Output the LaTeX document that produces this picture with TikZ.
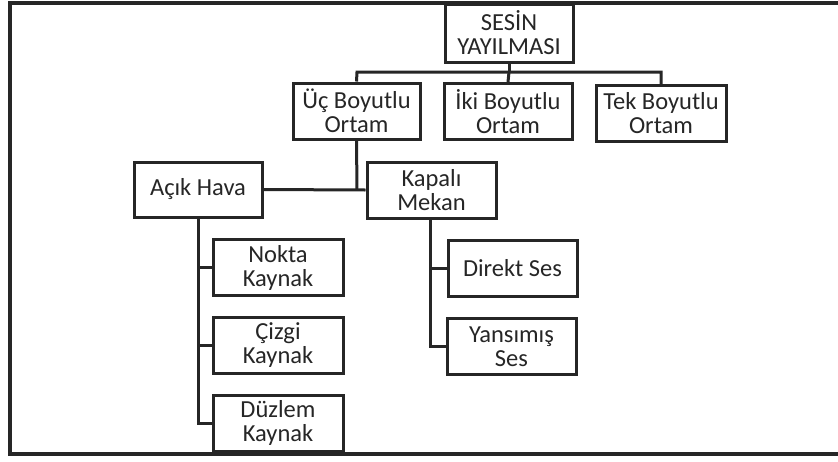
\documentclass[tikz,border=0pt]{standalone}
\usepackage{fontspec}
\setmainfont{Carlito}
\definecolor{ink}{HTML}{262626}
\begin{document}
\begin{tikzpicture}[x=1pt,y=-1pt,
  box/.style={draw=ink,line width=3pt,rectangle,align=center,text=ink,
    font=\fontsize{24.5}{24}\selectfont,inner sep=0pt,minimum width=128pt,minimum height=56pt},
  link/.style={draw=ink,line width=3pt}]
\useasboundingbox (0,0) rectangle (838,461);
\fill[white] (0,0) rectangle (838,461);
% frame
\draw[ink,line width=4pt] (838,3) -- (10,3) -- (10,454) -- (838,454);
% nodes
\node[box,minimum height=58pt] (ses) at (509,33) {SESİN\\YAYILMASI};
\node[box,minimum width=127pt] (uc) at (356.5,111) {Üç Boyutlu\\Ortam};
\node[box] (iki) at (508,111.5) {İki Boyutlu\\Ortam};
\node[box,minimum width=130pt] (tek) at (661,113.5) {Tek Boyutlu\\Ortam};
\node[box,minimum height=55pt] (acik) at (198,189.5) {Açık Hava};
\node[box,minimum width=129pt] (kapali) at (431.5,190) {Kapalı\\Mekan};
\node[box,minimum width=130pt] (nokta) at (278,267.5) {Nokta\\Kaynak};
\node[box,minimum width=130pt] (cizgi) at (278,345.5) {Çizgi\\Kaynak};
\node[box,minimum width=130pt] (duzlem) at (278,423) {Düzlem\\Kaynak};
\node[box,minimum width=129pt] (direkt) at (512.5,268) {Direkt Ses};
\node[box,minimum width=129pt] (yansi) at (511.5,346.5) {Yansımış\\Ses};
% junctions
\coordinate (busL) at (357,72);
\coordinate (busM) at (509,72);
\coordinate (busR) at (661,72);
\coordinate (midJ) at (357,190);
% connectors
\draw[link] (ses.south) -- (busM);
\draw[link] (uc.north) -- (busL) -- (busR) -- (tek.north);
\draw[link] (busM) -- (iki.north);
\draw[link] (uc.south) -- (midJ);
\draw[link] (acik.east) -- (kapali.west);
\draw[link] (acik.south) |- (duzlem.west);
\draw[link] (acik.south |- nokta.west) -- (nokta.west);
\draw[link] (acik.south |- cizgi.west) -- (cizgi.west);
\draw[link] ([xshift=-1.5pt]kapali.south) |- (yansi.west);
\draw[link] ([xshift=-1.5pt]kapali.south |- direkt.west) -- (direkt.west);
\end{tikzpicture}
\end{document}
